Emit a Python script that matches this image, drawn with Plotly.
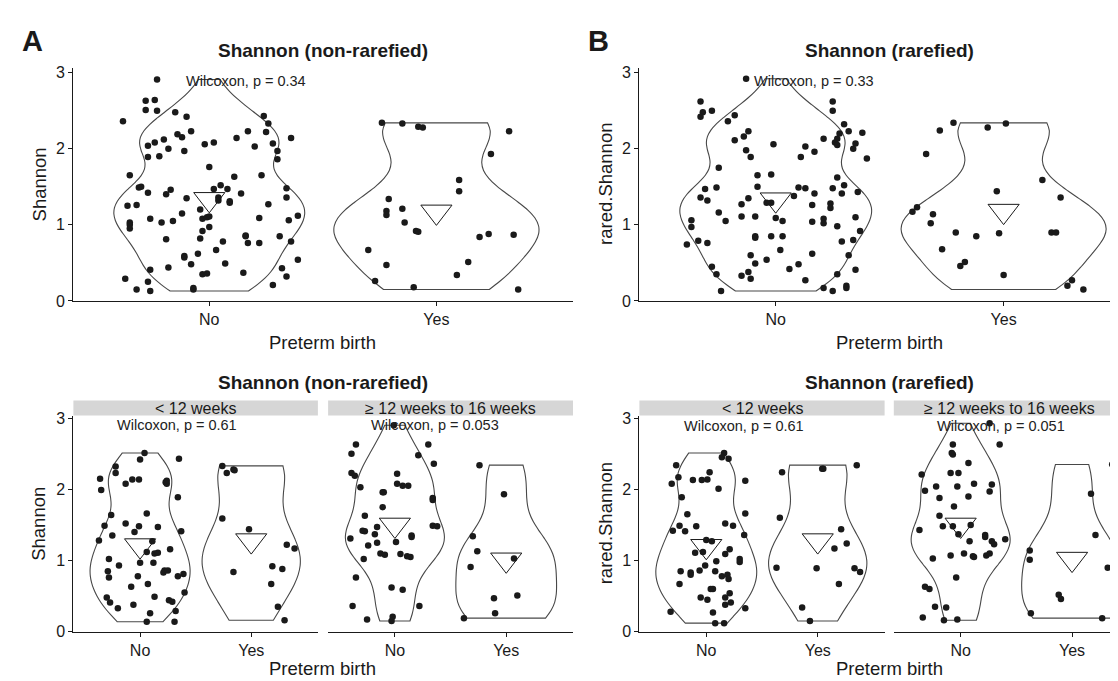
import numpy as np
import plotly.graph_objects as go

W, H = 1118, 681
FONT = "Liberation Sans, Arial, sans-serif"
INK = "#1a1a1a"

categories = ["No", "Yes"]
y_ticks = [0, 1, 2, 3]

# ---------------- Panel A: Shannon (non-rarefied) ----------------
a_no_val = [2.91, 2.63, 2.64, 2.51, 2.50, 2.36, 2.48, 2.42, 2.23, 2.19,
            2.15, 2.04, 2.08, 2.12, 1.89, 1.90, 2.00, 1.97, 2.06, 2.08,
            1.76, 1.65, 1.49, 1.50, 1.42, 1.40, 1.46, 1.35, 1.25, 1.26,
            1.03, 1.00, 0.95, 1.08, 1.03, 1.05, 1.15, 1.20, 1.08, 1.10,
            1.11, 0.97, 0.92, 1.47, 1.36, 1.52, 1.47, 1.32, 1.29, 1.31,
            1.63, 1.41, 2.14, 2.23, 2.03, 2.43, 2.33, 2.22, 2.07, 1.97,
            1.86, 1.65, 1.48, 1.36, 2.14, 1.27, 1.09, 1.06, 1.12, 0.85,
            0.78, 0.54, 0.76, 0.76, 0.86, 0.85, 0.78, 0.67, 0.82, 0.62,
            0.59, 0.57, 0.48, 0.44, 0.81, 0.41, 0.29, 0.15, 0.25, 0.13,
            0.15, 0.17, 0.35, 0.36, 0.49, 0.37, 0.21, 0.32, 0.43]
a_no_jit = [-0.23, -0.28, -0.24, -0.28, -0.23, -0.38, -0.15, -0.10, -0.08, -0.14,
            -0.12, -0.27, -0.24, -0.20, -0.27, -0.22, -0.18, -0.11, -0.02, 0.02,
            0.00, -0.35, -0.31, -0.30, -0.27, -0.19, -0.17, -0.10, -0.36, -0.32,
            -0.35, -0.35, -0.35, -0.26, -0.21, -0.16, -0.12, -0.04, -0.03, -0.01,
            0.00, 0.00, -0.03, 0.02, 0.04, 0.05, 0.08, 0.04, 0.09, 0.09,
            0.11, 0.14, 0.12, 0.17, 0.20, 0.24, 0.26, 0.25, 0.28, 0.30,
            0.30, 0.23, 0.34, 0.34, 0.36, 0.26, 0.22, 0.35, 0.39, 0.31,
            0.36, 0.39, 0.17, 0.22, 0.16, 0.16, 0.06, 0.03, -0.04, -0.05,
            -0.11, -0.11, -0.08, -0.18, -0.19, -0.26, -0.37, -0.32, -0.27, -0.26,
            -0.07, -0.07, -0.03, -0.01, 0.07, 0.15, 0.28, 0.34, 0.32]
a_yes_val = [2.34, 2.33, 2.29, 2.28, 2.23, 1.93, 1.59, 1.44, 1.34, 1.18,
             1.13, 1.21, 1.03, 0.92, 0.91, 0.67, 0.47, 0.26, 0.18, 0.34,
             0.51, 0.84, 0.88, 0.87, 0.15]
a_yes_jit = [-0.24, -0.15, -0.08, -0.06, 0.32, 0.24, 0.10, 0.10, -0.21, -0.22,
             -0.22, -0.15, -0.14, -0.09, -0.08, -0.30, -0.22, -0.27, -0.10, 0.09,
             0.14, 0.19, 0.23, 0.34, 0.36]
a_means = [1.335, 1.17]

# ---------------- Panel B: Shannon (rarefied) ----------------
b_no_val = [2.92, 2.62, 2.48, 2.42, 2.50, 2.36, 2.44, 2.23, 2.16, 2.11,
            1.98, 1.89, 1.75, 1.47, 1.36, 1.32, 1.49, 1.16, 1.05, 1.06,
            0.97, 0.74, 0.79, 0.76, 0.45, 0.35, 0.13, 1.65, 1.50, 1.35,
            1.27, 1.11, 1.11, 1.66, 2.06, 1.29, 1.29, 1.09, 1.05, 1.38,
            1.49, 1.48, 1.89, 2.03, 1.96, 1.41, 1.26, 1.04, 1.08, 1.02,
            0.85, 0.83, 0.85, 0.85, 0.67, 0.60, 0.49, 0.54, 0.38, 0.33,
            0.29, 0.42, 0.48, 0.27, 0.62, 2.13, 2.62, 2.50, 2.08, 2.05,
            2.13, 2.20, 2.32, 2.23, 2.21, 2.07, 2.00, 1.87, 1.62, 1.48,
            1.52, 1.41, 1.43, 1.28, 1.22, 0.98, 1.10, 0.92, 0.78, 0.80,
            0.60, 0.41, 0.35, 0.20, 0.17, 0.17, 0.13]
b_no_jit = [-0.13, -0.33, -0.32, -0.33, -0.28, -0.21, -0.18, -0.12, -0.14, -0.18,
            -0.13, -0.11, -0.25, -0.31, -0.33, -0.30, -0.26, -0.25, -0.22, -0.37,
            -0.37, -0.39, -0.34, -0.30, -0.28, -0.26, -0.24, -0.08, -0.08, -0.12,
            -0.15, -0.15, -0.09, -0.02, -0.01, -0.04, -0.02, 0.00, 0.03, 0.08,
            0.10, 0.13, 0.11, 0.13, 0.17, 0.17, 0.16, 0.16, 0.21, 0.21,
            -0.09, -0.09, -0.02, 0.03, 0.02, -0.11, -0.09, -0.04, -0.12, -0.15,
            -0.11, 0.06, 0.10, 0.13, 0.16, 0.21, 0.25, 0.25, 0.26, 0.27,
            0.27, 0.28, 0.30, 0.32, 0.38, 0.35, 0.34, 0.40, 0.27, 0.25,
            0.30, 0.29, 0.36, 0.24, 0.24, 0.27, 0.35, 0.37, 0.29, 0.34,
            0.32, 0.35, 0.27, 0.31, 0.31, 0.21, 0.25]
b_yes_val = [2.24, 2.34, 2.28, 2.33, 1.93, 1.59, 1.36, 1.44, 1.17, 1.23,
             1.14, 1.02, 0.90, 0.85, 0.89, 0.90, 0.90, 0.68, 0.46, 0.51,
             0.34, 0.27, 0.20, 0.15]
b_yes_jit = [-0.28, -0.22, -0.07, 0.01, -0.34, 0.17, 0.25, -0.03, -0.40, -0.38,
             -0.31, -0.32, -0.21, -0.12, -0.02, 0.21, 0.23, -0.27, -0.19, -0.17,
             0.00, 0.30, 0.28, 0.35]
b_means = [1.33, 1.18]

# ------------- Non-rarefied by gestational window -------------
nr_lt12_no_val = [2.51, 2.42, 2.32, 2.23, 2.15, 1.99, 2.08, 2.14, 2.14, 2.10,
                  2.08, 2.12, 2.43, 1.89, 1.64, 1.49, 1.28, 1.35, 1.52, 1.48,
                  1.66, 1.40, 1.27, 1.47, 1.12, 1.10, 1.11, 1.16, 1.02, 0.93,
                  0.85, 0.76, 0.97, 0.97, 0.86, 0.83, 0.86, 0.78, 0.81, 1.41,
                  0.55, 0.63, 0.78, 0.67, 0.49, 0.48, 0.41, 0.33, 0.38, 0.26,
                  0.44, 0.42, 0.29, 0.14, 0.14]
nr_lt12_no_jit = [0.04, 0.00, -0.22, -0.22, -0.36, -0.35, -0.13, -0.07, -0.01, 0.23,
                  0.24, 0.24, 0.35, 0.34, -0.26, -0.32, -0.37, -0.25, -0.13, -0.01,
                  0.06, -0.05, 0.11, 0.16, 0.06, 0.13, 0.16, 0.27, -0.28, -0.19,
                  -0.29, -0.28, 0.00, 0.12, 0.22, 0.21, 0.25, 0.34, 0.39, 0.37,
                  0.40, -0.08, -0.02, 0.07, 0.13, -0.30, -0.27, -0.20, -0.06, 0.09,
                  0.26, 0.29, 0.32, 0.31, 0.06]
nr_lt12_yes_val = [2.33, 2.23, 2.28, 2.27, 1.59, 1.44, 0.84, 0.92, 0.88, 1.22,
                   1.17, 0.67, 0.35, 0.16]
nr_lt12_yes_jit = [-0.26, -0.22, -0.16, -0.15, -0.26, -0.02, -0.16, 0.19, 0.28, 0.32,
                   0.39, 0.18, 0.24, 0.30]
nr_lt12_means = [1.21, 1.28]

nr_12to16_no_val = [2.90, 2.63, 2.50, 2.23, 2.19, 2.03, 1.63, 1.41, 1.42, 1.37,
                    1.47, 1.96, 1.96, 1.75, 2.22, 2.08, 2.05, 2.05, 2.63, 2.48,
                    2.36, 1.88, 1.85, 1.49, 1.48, 1.35, 1.33, 1.26, 1.25, 1.21,
                    1.31, 1.10, 1.08, 1.09, 1.06, 1.05, 1.02, 0.76, 0.62, 0.59,
                    0.36, 0.36, 0.17, 0.21, 0.15]
nr_12to16_no_jit = [-0.01, -0.35, -0.39, -0.39, -0.36, -0.31, -0.27, -0.27, -0.29, -0.18,
                    -0.16, -0.11, -0.10, -0.11, 0.02, 0.02, 0.07, 0.12, 0.30, 0.21,
                    0.35, 0.34, 0.34, 0.34, 0.38, 0.15, 0.15, 0.01, -0.16, -0.24,
                    -0.40, -0.13, -0.09, 0.05, 0.11, 0.14, -0.28, -0.35, -0.03, 0.07,
                    0.22, -0.38, -0.25, -0.02, -0.03]
nr_12to16_yes_val = [2.34, 1.93, 1.34, 1.13, 0.91, 1.03, 0.51, 0.47, 0.26, 0.19]
nr_12to16_yes_jit = [-0.24, -0.02, -0.30, -0.26, -0.32, 0.07, 0.10, -0.11, -0.10, -0.38]
nr_12to16_means = [1.50, 1.01]

# --------------- Rarefied by gestational window ---------------
r_lt12_no_val = [2.51, 2.45, 2.43, 2.24, 2.14, 2.13, 2.13, 2.01, 2.34, 2.17,
                 2.08, 1.89, 2.12, 1.65, 1.49, 1.41, 1.42, 1.48, 1.52, 1.49,
                 1.66, 1.36, 1.29, 1.27, 1.11, 1.12, 1.16, 1.09, 1.02, 0.98,
                 0.99, 0.93, 0.85, 0.83, 0.80, 0.86, 0.85, 0.78, 0.80, 0.74,
                 0.67, 0.60, 0.60, 0.54, 0.48, 0.45, 0.48, 0.38, 0.41, 0.33,
                 0.28, 0.27, 0.12, 0.12]
r_lt12_no_jit = [0.16, 0.14, 0.20, 0.03, 0.01, -0.04, -0.12, 0.11, -0.27, -0.25,
                 -0.31, -0.22, 0.35, -0.17, -0.24, -0.19, -0.30, -0.09, 0.17, 0.24,
                 0.35, 0.34, 0.00, 0.05, -0.10, -0.03, 0.21, 0.17, 0.30, 0.30,
                 0.09, -0.01, -0.23, -0.14, -0.14, -0.06, 0.08, 0.14, 0.19, 0.20,
                 -0.24, 0.06, 0.04, 0.21, -0.05, 0.01, 0.17, 0.17, 0.22, 0.35,
                 -0.32, 0.06, 0.08, 0.16]
r_lt12_yes_val = [2.24, 2.29, 2.29, 2.34, 1.60, 1.44, 1.24, 1.17, 0.90, 0.89,
                  0.89, 0.84, 0.67, 0.34, 0.15]
r_lt12_yes_jit = [-0.32, 0.04, 0.05, 0.35, -0.34, 0.21, 0.26, 0.15, -0.37, -0.01,
                  0.33, 0.38, 0.19, -0.14, -0.07]
r_lt12_means = [1.20, 1.28]

r_12to16_no_val = [2.93, 2.63, 2.63, 2.51, 2.49, 2.37, 2.21, 1.98, 2.04, 2.23,
                   2.23, 2.04, 2.08, 2.07, 1.97, 1.88, 1.90, 1.76, 1.63, 1.48,
                   1.48, 1.50, 1.43, 1.37, 1.27, 1.36, 1.33, 1.30, 1.27, 1.23,
                   1.03, 1.07, 1.10, 1.06, 1.05, 1.07, 1.10, 0.76, 0.63, 0.60,
                   0.35, 0.34, 0.20, 0.16, 0.17]
r_12to16_no_jit = [0.26, 0.35, -0.07, -0.08, -0.07, 0.07, -0.35, -0.32, -0.22, -0.09,
                   -0.02, -0.03, 0.12, 0.28, 0.26, -0.19, 0.07, -0.06, -0.19, -0.16,
                   -0.07, 0.09, -0.37, -0.02, 0.08, 0.22, 0.22, 0.40, 0.28, 0.30,
                   -0.25, -0.09, 0.03, 0.11, 0.12, 0.23, 0.26, -0.04, -0.32, -0.28,
                   -0.23, -0.13, -0.34, -0.15, -0.03]
r_12to16_yes_val = [2.35, 1.94, 1.36, 1.14, 1.01, 0.90, 0.52, 0.46, 0.26, 0.19]
r_12to16_yes_jit = [0.36, 0.17, 0.21, -0.38, -0.38, 0.32, -0.12, -0.10, -0.37, 0.27]
r_12to16_means = [1.50, 1.02]

p_labels = ["Wilcoxon, p = 0.34", "Wilcoxon, p = 0.33",
            "Wilcoxon, p = 0.61", "Wilcoxon, p = 0.053",
            "Wilcoxon, p = 0.61", "Wilcoxon, p = 0.051"]
strip_labels = ["&lt; 12 weeks", "≥ 12 weeks to 16 weeks"]


def bw_nrd0(v):
    v = np.asarray(v, float)
    sd = v.std(ddof=1)
    iqr = np.subtract(*np.percentile(v, [75, 25]))
    lo = min(sd, iqr / 1.34) if iqr > 0 else sd
    return 0.9 * lo * len(v) ** -0.2


panels = [
    dict(s="", groups=[(a_no_val, a_no_jit), (a_yes_val, a_yes_jit)], means=a_means,
         widths=[0.84, 0.90], lab=p_labels[0], lx=0.89, ly=2.887),
    dict(s="2", groups=[(b_no_val, b_no_jit), (b_yes_val, b_yes_jit)], means=b_means,
         widths=[0.84, 0.90], lab=p_labels[1], lx=0.895, ly=2.89),
    dict(s="3", groups=[(nr_lt12_no_val, nr_lt12_no_jit), (nr_lt12_yes_val, nr_lt12_yes_jit)],
         means=nr_lt12_means, widths=[0.90, 0.88], lab=p_labels[2], lx=0.778, ly=2.90),
    dict(s="4", groups=[(nr_12to16_no_val, nr_12to16_no_jit), (nr_12to16_yes_val, nr_12to16_yes_jit)],
         means=nr_12to16_means, widths=[0.89, 0.905], lab=p_labels[3], lx=0.765, ly=2.90),
    dict(s="5", groups=[(r_lt12_no_val, r_lt12_no_jit), (r_lt12_yes_val, r_lt12_yes_jit)],
         means=r_lt12_means, widths=[0.905, 0.88], lab=p_labels[4], lx=0.782, ly=2.89),
    dict(s="6", groups=[(r_12to16_no_val, r_12to16_no_jit), (r_12to16_yes_val, r_12to16_yes_jit)],
         means=r_12to16_means, widths=[0.885, 0.905], lab=p_labels[5], lx=0.766, ly=2.89),
]

fig = go.Figure()
for p in panels:
    xa, ya = "x" + p["s"], "y" + p["s"]
    for gi, (vals, jit) in enumerate(p["groups"]):
        assert len(vals) == len(jit)
        fig.add_trace(go.Violin(
            y=vals, x0=gi + 1, width=p["widths"][gi], spanmode="hard",
            bandwidth=bw_nrd0(vals), scalemode="width",
            line=dict(color="#484848", width=1.1), fillcolor="rgba(255,255,255,0)",
            points=False, box_visible=False, meanline_visible=False,
            xaxis=xa, yaxis=ya, showlegend=False, hoverinfo="skip"))
    for gi, (vals, jit) in enumerate(p["groups"]):
        fig.add_trace(go.Scatter(
            x=[gi + 1 + j for j in jit], y=vals, mode="markers",
            marker=dict(size=6.5, color=INK), xaxis=xa, yaxis=ya,
            showlegend=False, hoverinfo="skip"))
    fig.add_trace(go.Scatter(
        x=[1, 2], y=p["means"], mode="markers",
        marker=dict(symbol="triangle-down-open", size=27, color=INK, line=dict(width=1, color=INK)),
        xaxis=xa, yaxis=ya, showlegend=False, hoverinfo="skip"))


def fx(px):
    return px / W


def fy(py):
    return 1 - py / H


TOP = (fy(293.3), fy(54.8))
BOT = (fy(631), fy(410))
xdom = {"": (fx(65), fx(564.7)), "2": (fx(631), 1.0),
        "3": (fx(65.4), fx(309.9)), "4": (fx(320.1), fx(565)),
        "5": (fx(631.4), fx(876.6)), "6": (fx(885.8), 1.0)}
xrng = {"": [0.4, 2.6], "2": [0.4, 2.537], "3": [0.4, 2.6], "4": [0.4, 2.6],
        "5": [0.4, 2.6], "6": [0.4, 2.484]}
ydom = {"": TOP, "2": TOP, "3": BOT, "4": BOT, "5": BOT, "6": BOT}
yrng = {"": [-0.005, 3.065], "2": [-0.005, 3.065], "3": [-0.005, 3.037], "4": [-0.005, 3.037],
        "5": [-0.005, 3.037], "6": [-0.005, 3.037]}

tickfont = dict(family=FONT, size=16, color=INK)
layout_axes = {}
for s in ["", "2", "3", "4", "5", "6"]:
    layout_axes["xaxis" + s] = dict(
        domain=list(xdom[s]), range=xrng[s], anchor="y" + s, tickvals=[1, 2], ticktext=categories,
        showline=True, linecolor=INK, linewidth=1, ticks="outside", ticklen=4, tickwidth=1,
        tickcolor=INK, tickfont=tickfont, showgrid=False, zeroline=False, fixedrange=True)
    hidden = s in ("4", "6")
    layout_axes["yaxis" + s] = dict(
        domain=list(ydom[s]), range=yrng[s], anchor="x" + s, tickvals=y_ticks,
        showline=not hidden, showticklabels=not hidden, linecolor=INK, linewidth=1,
        ticks="" if hidden else "outside", ticklen=4, tickwidth=1, tickcolor=INK,
        tickfont=tickfont, showgrid=False, zeroline=False, fixedrange=True)

ann = []


def text(x, y, t, size, bold=False, xanchor="center", angle=0, xref="paper", yref="paper",
         color=INK, yanchor="middle"):
    ann.append(dict(x=x, y=y, xref=xref, yref=yref, text=f"<b>{t}</b>" if bold else t,
                    showarrow=False, xanchor=xanchor, yanchor=yanchor, textangle=angle,
                    font=dict(family=FONT, size=size, color=color)))


# panel letters
text(fx(12), fy(27.5), "A", 29, bold=True, xanchor="left")
text(fx(578), fy(27.5), "B", 29, bold=True, xanchor="left")
# titles
text(fx(314.5), fy(37), "Shannon (non-rarefied)", 19, bold=True)
text(fx(881.5), fy(37), "Shannon (rarefied)", 19, bold=True)
text(fx(314.5), fy(376), "Shannon (non-rarefied)", 19, bold=True)
text(fx(881.5), fy(376), "Shannon (rarefied)", 19, bold=True)
# x titles
for cx in (314.5, 881.5):
    text(fx(cx), fy(335.5), "Preterm birth", 18.5)
    text(fx(cx), 0.0, "Preterm birth", 18.5, yanchor="bottom")
# y titles
text(fx(31), fy(174), "Shannon", 18.5, angle=-90)
text(fx(597.5), fy(174), "rared.Shannon", 18.5, angle=-90)
text(fx(31), fy(520.5), "Shannon", 18.5, angle=-90)
text(fx(597.5), fy(520.5), "rared.Shannon", 18.5, angle=-90)

# strips
shapes = []
for s in ["3", "4", "5", "6"]:
    d = xdom[s]
    shapes.append(dict(type="rect", xref="paper", yref="paper", x0=d[0], x1=d[1],
                       y0=fy(410), y1=fy(394.5), fillcolor="#d6d6d6", line=dict(width=0),
                       layer="below"))
    lab = strip_labels[0] if s in ("3", "5") else strip_labels[1]
    text((d[0] + d[1]) / 2, fy(402.5), lab, 16)

# Wilcoxon labels
for p in panels:
    text(p["lx"], p["ly"], p["lab"], 14.5, xanchor="left", xref="x" + p["s"], yref="y" + p["s"],
         color="#222222")

fig.update_layout(
    width=W, height=H, margin=dict(l=0, r=0, t=0, b=0),
    paper_bgcolor="white", plot_bgcolor="white", showlegend=False,
    violinmode="overlay", annotations=ann, shapes=shapes,
    font=dict(family=FONT, color=INK), **layout_axes)

fig.write_html("out.html")
